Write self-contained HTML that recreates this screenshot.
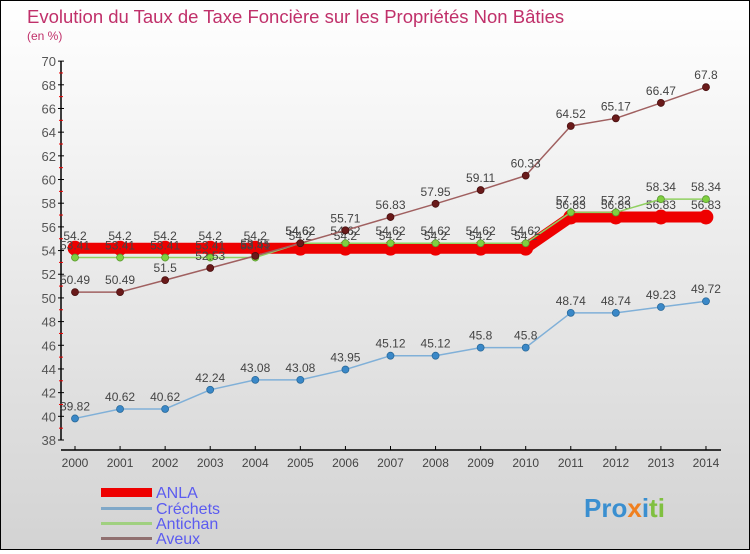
<!DOCTYPE html>
<html><head><meta charset="utf-8"><style>
body{margin:0;width:750px;height:550px;overflow:hidden;font-family:"Liberation Sans",sans-serif}
#wrap{position:relative;width:748px;height:548px;border:1px solid #000;background:linear-gradient(#fff,#d3d3d3)}
</style></head><body>
<div id="wrap">
<svg id="chart" width="748" height="548" xmlns="http://www.w3.org/2000/svg">
<text x="26" y="22" font-size="18.5" fill="#c0306a">Evolution du Taux de Taxe Foncière sur les Propriétés Non Bâties</text>
<text x="26" y="39" font-size="12" fill="#c0306a">(en %)</text>
<g id="axes"></g><g id="series"></g>
<g>
<rect x="100" y="487" width="51" height="9" fill="#e00"/>
<text x="155" y="497" font-size="16" fill="#5b5bf0">ANLA</text>
<rect x="100" y="506" width="51" height="3" fill="#80a8c8"/>
<text x="155" y="513" font-size="16" fill="#5b5bf0">Créchets</text>
<rect x="100" y="521" width="51" height="3" fill="#a0d080"/>
<text x="155" y="528" font-size="16" fill="#5b5bf0">Antichan</text>
<rect x="100" y="536" width="51" height="3" fill="#907070"/>
<text x="155" y="543" font-size="16" fill="#5b5bf0">Aveux</text>
</g>
<text x="583" y="516" font-size="26" font-weight="bold"><tspan fill="#3a8fd0">Pro</tspan><tspan fill="#f08020">x</tspan><tspan fill="#3a8fd0">i</tspan><tspan fill="#80c040">ti</tspan></text>
</svg></div>
<script>
const years=[2000,2001,2002,2003,2004,2005,2006,2007,2008,2009,2010,2011,2012,2013,2014];
const anla=[54.2,54.2,54.2,54.2,54.2,54.2,54.2,54.2,54.2,54.2,54.2,56.83,56.83,56.83,56.83];
const crechets=[39.82,40.62,40.62,42.24,43.08,43.08,43.95,45.12,45.12,45.8,45.8,48.74,48.74,49.23,49.72];
const antichan=[53.41,53.41,53.41,53.41,53.41,54.62,54.62,54.62,54.62,54.62,54.62,57.22,57.22,58.34,58.34];
const aveux=[50.49,50.49,51.5,52.53,53.55,54.62,55.71,56.83,57.95,59.11,60.33,64.52,65.17,66.47,67.8];
const yTicks=[38,40,42,44,46,48,50,52,54,56,58,60,62,64,66,68,70];
const NS="http://www.w3.org/2000/svg";
const X=i=>74+i*45.07, Y=v=>439-(v-38)*11.84;
function el(t,a,p){const e=document.createElementNS(NS,t);for(const k in a)e.setAttribute(k,a[k]);p.appendChild(e);return e;}
const ax=document.getElementById('axes'),sr=document.getElementById('series');
let l=el('line',{x1:60,y1:Y(70),x2:60,y2:Y(38),stroke:'#000','stroke-width':1.5},ax);


l=el('line',{x1:60,y1:449,x2:720,y2:449,stroke:'#000','stroke-width':1.5},ax);


yTicks.forEach(v=>{el('line',{x1:57,y1:Y(v),x2:63,y2:Y(v),stroke:'#000'},ax);
 if(v<70)el('line',{x1:58,y1:Y(v+1),x2:62,y2:Y(v+1),stroke:'#e00'},ax);
 const t=el('text',{x:55,y:Y(v)+5,'font-size':13,fill:'#555','text-anchor':'end'},ax);t.textContent=v;
 
 });
years.forEach((y,i)=>{el('line',{x1:X(i),y1:445,x2:X(i),y2:449,stroke:'#000'},ax);
 const t=el('text',{x:X(i),y:466,'font-size':12,fill:'#444','text-anchor':'middle'},ax);t.textContent=y;
 
 });
function series(d,name,lc,pc,w,r,ps){
 const g=el('g',{},sr);
 
 
 el('polyline',{points:d.map((v,i)=>X(i)+','+Y(v)).join(' '),fill:'none',stroke:lc,'stroke-width':w},g);
 d.forEach((v,i)=>{const c=el('circle',{cx:X(i),cy:Y(v),r:r,fill:pc,stroke:ps,'stroke-width':0.8},g);
  
  
  const t=el('text',{x:X(i),y:Y(v)-8,'font-size':12,fill:'#444','text-anchor':'middle'},g);t.textContent=v;
  
  });
}
series(anla,'anla','#e00','#e00',11,7,'#e00');
series(crechets,'crechets','#80b0d8','#3a88c8',1.5,3.5,'#2a6a9a');
series(antichan,'antichan','#90d060','#80d040',1.5,3.5,'#5a9a30');
series(aveux,'aveux','#a06060','#6a1a1a',1.5,3.5,'#4a1010');
</script></body></html>
